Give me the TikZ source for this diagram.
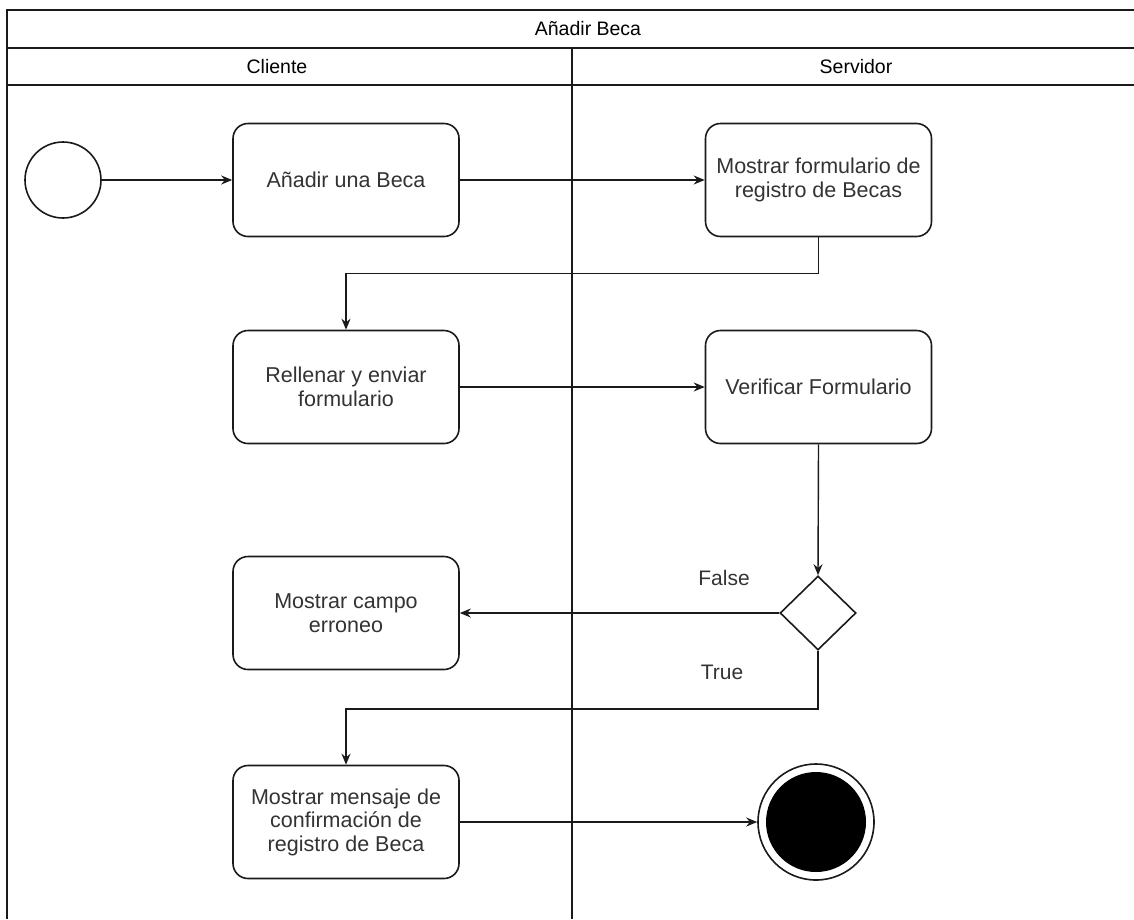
\documentclass[tikz,border=0pt]{standalone}
\usepackage{fontspec}
\setmainfont{Liberation Sans}
\usetikzlibrary{shapes.geometric,arrows.meta}
\definecolor{txt}{HTML}{333333}
\definecolor{ln}{HTML}{1A1A1A}
\tikzset{
  act/.style={draw=ln, line width=1.6pt, rounded corners=15pt, minimum width=226pt, minimum height=113pt, align=center, font=\fontsize{21.5}{23.5}\selectfont, text=txt, inner sep=2pt},
  flow/.style={draw=ln, line width=1.4pt, -{Stealth[length=11pt,width=9pt]}},
  lane/.style={draw=ln, line width=1.8pt},
  hdr/.style={font=\fontsize{19.5}{22}\selectfont, text=black},
  lbl/.style={font=\fontsize{21}{24}\selectfont, text=txt}
}
\begin{document}
\begin{tikzpicture}[x=1pt,y=-1pt]
\useasboundingbox (0,0) rectangle (1134,919);
\fill[white] (0,0) rectangle (1134,919);
% swimlane frame
\draw[lane] (7,919) -- (7,10) -- (1134,10);
\draw[lane] (7,48) -- (1134,48);
\draw[lane] (7,85) -- (1134,85);
\draw[lane] (572,48) -- (572,919);
\node[hdr] (title) at (588,29) {Añadir Beca};
\node[hdr] (cli) at (277,67) {Cliente};
\node[hdr] (srv) at (856,67) {Servidor};
% nodes
\node[circle, draw=ln, line width=1.6pt, minimum size=76pt, inner sep=0pt] (start) at (63,180) {};
\node[act] (a1) at (346,180) {Añadir una Beca};
\node[act] (a2) at (818.5,180) {Mostrar formulario de\\registro de Becas};
\node[act] (a3) at (346,387) {Rellenar y enviar\\formulario};
\node[act] (a4) at (818.5,387) {Verificar Formulario};
\node[diamond, draw=ln, line width=1.6pt, minimum width=76pt, minimum height=74pt, inner sep=0pt] (dec) at (818,613) {};
\node[act] (a5) at (346,613) {Mostrar campo\\erroneo};
\node[act] (a6) at (346,822) {Mostrar mensaje de\\confirmación de\\registro de Beca};
\node[circle, draw=ln, line width=1.6pt, minimum size=116pt, inner sep=0pt] (endo) at (816,822) {};
\node[circle, fill=black, minimum size=100pt, inner sep=0pt] (endi) at (816,822) {};
% connectors
\draw[flow] (start) -- (a1);
\draw[flow] (a1) -- (a2);
\draw[flow] (a2.south) -- ++(0,36) -| (a3.north);
\draw[flow] (a3) -- (a4);
\draw[flow] (a4.south) -- (dec.north);
\draw[flow] (dec.west) -- (a5.east);
\draw[flow] (dec.south) -- ++(0,58) -| (a6.north);
\draw[flow] (a6.east) -- (endo.west);
\node[lbl] (lf) at (724,578) {False};
\node[lbl] (lt) at (722,672) {True};
\end{tikzpicture}
\end{document}
